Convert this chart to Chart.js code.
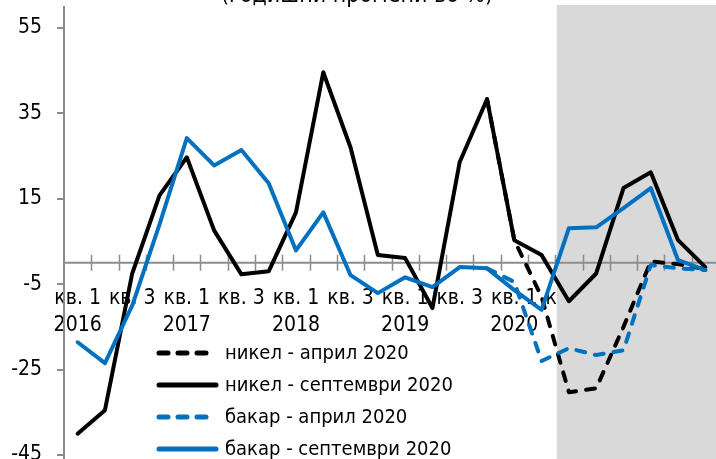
<!DOCTYPE html>
<html>
<head>
<meta charset="utf-8">
<script src="https://cdn.jsdelivr.net/npm/chart.js@4.4.1/dist/chart.umd.min.js"></script>
<style>
  html, body { margin: 0; padding: 0; overflow: hidden; background: #fff; }
  #wrap { position: absolute; left: 0; top: 0; width: 740px; height: 480px; }
</style>
</head>
<body>
<div id="wrap"><canvas id="c" width="740" height="480"></canvas></div>
<script>
// Quarterly categories, 2016 – 2021
const years = ['2016', '2017', '2018', '2019', '2020', '2021'];
const quarters = ['кв. 1', 'кв. 2', 'кв. 3', 'кв. 4'];
const categories = years.flatMap(y => quarters.map(q => q + ' ' + y));

// First quarter of the projection period (shaded)
const forecastFrom = 'кв. 3 2020';

const title = '(годишни промени во %)';
const seriesNames = [
  'никел - април 2020',
  'никел - септември 2020',
  'бакар - април 2020',
  'бакар - септември 2020'
];

// Annual changes, %
const nickelApril = [null, null, null, null, null, null, null, null, null, null, null, null, null, null, null,
  38.3, 5.3, -8, -30.3, -29.4, -15, 0.3, -0.3, -1.5];
const nickelSeptember = [-40, -34.5, -2.5, 15.8, 24.7, 7.6, -2.7, -2.0, 11.8, 44.6, 27, 1.8,
  1.1, -10.6, 23.6, 38.3, 5.3, 1.8, -9, -2.5, 17.5, 21.2, 5.3, -1.0];
const copperApril = [null, null, null, null, null, null, null, null, null, null, null, null, null, null, null,
  -1.3, -4.5, -23, -20, -21.6, -20.5, -0.5, -1.3, -1.7];
const copperSeptember = [-18.6, -23.5, -10, 9, 29.2, 22.8, 26.4, 18.6, 2.9, 11.8, -2.9, -7.1,
  -3.4, -5.7, -1.0, -1.3, -6.4, -11, 8.1, 8.3, 12.8, 17.5, 0.6, -1.7];

const yTicks = [-45, -25, -5, 15, 35, 55];

const FONT = "'DejaVu Sans Condensed', 'DejaVu Sans', sans-serif";
const AXIS_GREY = '#8c8c8c';
const BLUE = '#0070c0';
const DASH = [9, 10];

Chart.defaults.font.family = FONT;
Chart.defaults.font.size = 21;
Chart.defaults.color = '#000';

// Shaded projection band, zero line with crossing tick marks, title and legend
const decor = {
  id: 'decor',
  beforeDatasetsDraw(chart) {
    const { ctx, chartArea: a, scales: { x, y } } = chart;
    const step = x.getPixelForValue(1) - x.getPixelForValue(0);
    const shadeLeft = x.getPixelForValue(categories.indexOf(forecastFrom)) - step / 2;
    ctx.save();
    ctx.fillStyle = '#d9d9d9';
    ctx.fillRect(shadeLeft + 1.5, a.top - 1.5, a.right - shadeLeft + 30, a.bottom - a.top + 30);

    const y0 = y.getPixelForValue(0);
    ctx.strokeStyle = AXIS_GREY;
    ctx.lineWidth = 2;
    ctx.beginPath();
    ctx.moveTo(a.left, y0);
    ctx.lineTo(a.right, y0);
    ctx.stroke();

    ctx.lineWidth = 1.5;
    ctx.beginPath();
    for (let i = 1; i <= categories.length; i++) {
      const px = Math.round(x.getPixelForValue(i) - step / 2) + 0.5;
      ctx.moveTo(px, y0 - 8);
      ctx.lineTo(px, y0 + 8);
    }
    ctx.stroke();
    ctx.restore();
  },
  afterDatasetsDraw(chart) {
    const { ctx } = chart;
    ctx.save();
    ctx.font = '23px ' + FONT;
    ctx.fillStyle = '#000';
    ctx.textAlign = 'center';
    ctx.textBaseline = 'alphabetic';
    ctx.fillText(title, 357, 2);

    ctx.font = '20px ' + FONT;
    ctx.textAlign = 'left';
    ctx.textBaseline = 'middle';
    ctx.lineCap = 'round';
    chart.data.datasets.forEach((ds, i) => {
      const yy = 353 + i * 32;
      ctx.strokeStyle = ds.borderColor;
      ctx.lineWidth = 5;
      ctx.setLineDash(ds.borderDash || []);
      ctx.beginPath();
      ctx.moveTo(159, yy);
      ctx.lineTo(216, yy);
      ctx.stroke();
      ctx.setLineDash([]);
      ctx.fillText(ds.label, 225, yy + 1);
    });
    ctx.restore();
  }
};

const line = (label, data, color, dashed, order) => ({
  label, data, order,
  borderColor: color,
  borderWidth: 4,
  borderDash: dashed ? DASH : [],
  borderCapStyle: 'round',
  borderJoinStyle: 'round',
  pointRadius: 0,
  tension: 0,
  spanGaps: false,
  fill: false
});

new Chart(document.getElementById('c'), {
  type: 'line',
  data: {
    labels: categories,
    datasets: [
      line(seriesNames[0], nickelApril, '#000', true, 4),
      line(seriesNames[1], nickelSeptember, '#000', false, 3),
      line(seriesNames[2], copperApril, BLUE, true, 2),
      line(seriesNames[3], copperSeptember, BLUE, false, 1)
    ]
  },
  options: {
    responsive: false,
    animation: false,
    devicePixelRatio: 1,
    layout: { padding: { top: 6.5, right: 21, bottom: 20.7, left: 0 } },
    plugins: {
      legend: { display: false },
      tooltip: { enabled: false },
      title: { display: false }
    },
    scales: {
      x: {
        type: 'category',
        position: { y: 0 },
        offset: true,
        grid: { display: false, drawTicks: false, offset: true },
        border: { display: false },
        ticks: {
          autoSkip: false,
          maxRotation: 0,
          minRotation: 0,
          padding: 22,
          font: { size: 21, lineHeight: 1.3 },
          callback: (v, i) => {
            const q = quarters[i % 4];
            if (i % 4 === 0) return [q, years[Math.floor(i / 4)]];
            if (i % 4 === 2) return q;
            return '';
          }
        },
        afterFit: s => { s.paddingLeft = 0; s.paddingRight = 0; }
      },
      y: {
        min: -46,
        max: 60,
        afterBuildTicks: s => { s.ticks = yTicks.map(v => ({ value: v })); },
        afterFit: s => { s.width = 64; s.paddingTop = 0; s.paddingBottom = 0; },
        grid: { display: true, drawOnChartArea: false, drawTicks: true, tickLength: 7, color: AXIS_GREY, lineWidth: 2 },
        border: { display: true, color: AXIS_GREY, width: 2 },
        ticks: { padding: 15, font: { size: 21 } }
      }
    }
  },
  plugins: [decor]
});
</script>
</body>
</html>
